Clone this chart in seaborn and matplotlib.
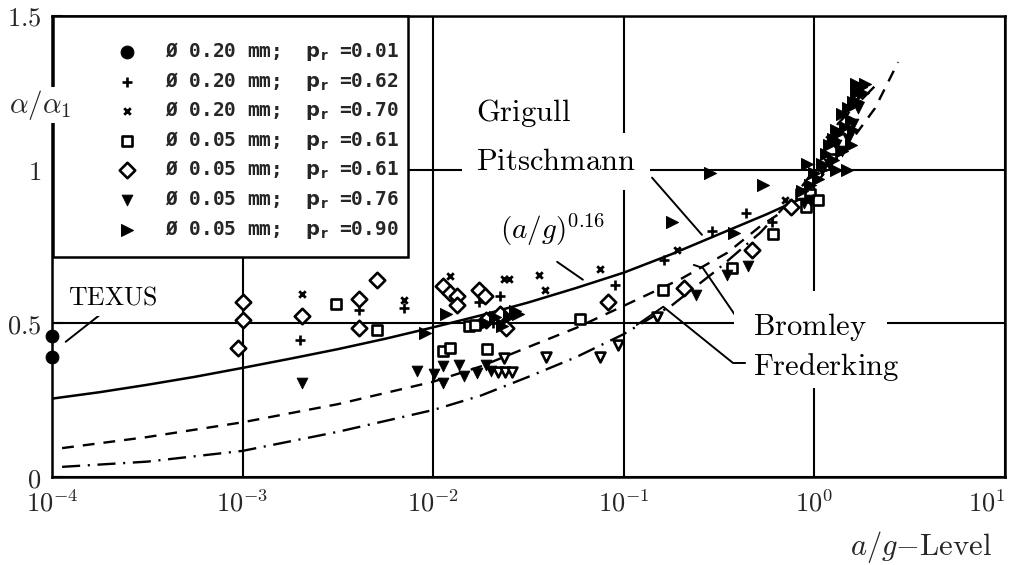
import numpy as np
import pandas as pd
import matplotlib
matplotlib.use("Agg")
import matplotlib.pyplot as plt
import seaborn as sns
from matplotlib.font_manager import FontProperties
from matplotlib.ticker import FixedLocator, NullFormatter
from matplotlib.patches import Rectangle

# ------------------------------------------------------------------ data
# correlation curves
grigull_x = [1e-4, 1.78e-4, 3.16e-4, 5.62e-4, 1e-3, 1.78e-3, 3.16e-3, 5.62e-3, 1e-2, 1.78e-2,
             3.16e-2, 5.62e-2, 1e-1, 1.78e-1, 3.16e-1, 5.62e-1, 1.0]
grigull_y = [0.255, 0.276, 0.30, 0.326, 0.355, 0.385, 0.416, 0.45, 0.487, 0.526,
             0.568, 0.615, 0.665, 0.725, 0.79, 0.855, 0.925]

bromley_x = [1.13e-4, 3.16e-4, 1e-3, 3.16e-3, 1e-2, 1.78e-2, 3.16e-2, 5.62e-2, 1e-1, 0.2, 0.35,
             0.53, 0.75, 1.0, 1.5, 2.08, 2.75]
bromley_y = [0.094, 0.13, 0.178, 0.237, 0.31, 0.36, 0.423, 0.485, 0.557, 0.645, 0.73,
             0.82, 0.88, 0.95, 1.08, 1.20, 1.35]

frederking_x = [1.13e-4, 3.16e-4, 1e-3, 3.16e-3, 1e-2, 1.78e-2, 3.16e-2, 5.62e-2, 1e-1, 0.18,
                0.31, 0.52, 0.8, 1.0, 1.33, 2.14]
frederking_y = [0.033, 0.05, 0.085, 0.147, 0.218, 0.265, 0.326, 0.39, 0.465, 0.56,
                0.675, 0.795, 0.92, 1.0, 1.15, 1.28]

# measurements
d020_pr001_x = [1e-4, 1e-4]
d020_pr001_y = [0.46, 0.39]

d020_pr062_x = [2.0e-3, 4.1e-3, 7.0e-3, 0.0174, 0.0225, 0.0205, 0.09, 0.163, 0.29, 0.44, 0.6, 1.1, 1.3]
d020_pr062_y = [0.446, 0.545, 0.55, 0.57, 0.59, 0.50, 0.625, 0.707, 0.80, 0.86, 0.83, 1.0, 1.05]

d020_pr070_x = [2.04e-3, 7.0e-3, 0.0122, 0.0234, 0.025, 0.0359, 0.0385, 0.075, 0.19, 0.7, 1.2]
d020_pr070_y = [0.596, 0.575, 0.655, 0.645, 0.645, 0.658, 0.61, 0.678, 0.74, 0.9, 1.1]

d005_pr061s_x = [3.1e-3, 5.1e-3, 0.0112, 0.0122, 0.0155, 0.0165, 0.0192, 0.059, 0.16, 0.37, 0.61,
                 0.85, 0.95, 0.9, 1.05]
d005_pr061s_y = [0.564, 0.479, 0.41, 0.42, 0.49, 0.495, 0.417, 0.515, 0.61, 0.68, 0.79,
                 0.92, 0.92, 0.88, 0.90]

d005_pr061d_x = [1e-3, 1e-3, 9.5e-4, 2.04e-3, 4.1e-3, 4.1e-3, 5.1e-3, 0.0112, 0.0122, 0.0133, 0.0133,
                 0.0174, 0.0187, 0.019, 0.0225, 0.024, 0.0824, 0.207, 0.47, 0.75]
d005_pr061d_y = [0.57, 0.51, 0.42, 0.524, 0.58, 0.485, 0.64, 0.62, 0.60, 0.59, 0.56,
                 0.61, 0.59, 0.51, 0.53, 0.485, 0.57, 0.615, 0.74, 0.88]

d005_pr076_x = [2.04e-3, 8.2e-3, 0.0101, 0.0112, 0.0112, 0.0137, 0.0145, 0.017, 0.019, 0.020,
                0.24, 0.35, 0.45, 0.88, 0.95, 1.1, 1.2, 1.3, 1.4, 1.5, 1.6, 1.7]
d005_pr076_y = [0.306, 0.345, 0.335, 0.36, 0.305, 0.365, 0.33, 0.34, 0.365, 0.345,
                0.593, 0.658, 0.685, 0.89, 0.9, 1.0, 1.02, 1.08, 1.06, 1.1, 1.15, 1.2]
d005_pr076o_x = [0.0218, 0.0238, 0.026, 0.0235, 0.0391, 0.075, 0.093, 0.15]
d005_pr076o_y = [0.342, 0.342, 0.342, 0.388, 0.39, 0.39, 0.43, 0.52]

d005_pr090_x = [0.0091, 0.0117, 0.019, 0.021, 0.023, 0.025, 0.027, 0.028, 0.18, 0.283, 0.38, 0.537,
                0.86, 0.91, 0.95, 1.0, 1.05, 1.1, 1.15, 1.2, 1.25, 1.3, 1.3, 1.35, 1.4, 1.45,
                1.48, 1.5, 1.55, 1.6, 1.6, 1.65, 1.7, 1.75, 1.8, 1.85, 1.65, 1.55, 1.4, 1.25]
d005_pr090_y = [0.47, 0.53, 0.50, 0.52, 0.49, 0.52, 0.54, 0.53, 0.83, 0.99, 0.795, 0.95,
                0.93, 1.02, 0.95, 0.99, 0.97, 1.02, 1.05, 1.08, 1.1, 1.13, 1.0, 1.12, 1.18, 1.14,
                1.0, 1.2, 1.16, 1.22, 1.13, 1.25, 1.22, 1.27, 1.25, 1.28, 1.28, 1.08, 1.06, 1.03]

legend_labels = [
    r"Ø 0.20 mm;  $\mathbf{p}_\mathbf{r}$ =0.01",
    r"Ø 0.20 mm;  $\mathbf{p}_\mathbf{r}$ =0.62",
    r"Ø 0.20 mm;  $\mathbf{p}_\mathbf{r}$ =0.70",
    r"Ø 0.05 mm;  $\mathbf{p}_\mathbf{r}$ =0.61",
    r"Ø 0.05 mm;  $\mathbf{p}_\mathbf{r}$ =0.61",
    r"Ø 0.05 mm;  $\mathbf{p}_\mathbf{r}$ =0.76",
    r"Ø 0.05 mm;  $\mathbf{p}_\mathbf{r}$ =0.90",
]
x_ticks = [1e-4, 1e-3, 1e-2, 1e-1, 1e0, 1e1]
x_ticklabels = [r"$10^{-4}$", r"$10^{-3}$", r"$10^{-2}$", r"$10^{-1}$", r"$10^{0}$", r"$10^{1}$"]
y_ticks = [0, 0.5, 1.0, 1.5]
y_ticklabels = [r"$0$", r"$0.5$", r"$1$", r"$1.5$"]

# ------------------------------------------------------------------ style
sns.set_style("white")
plt.rcParams["mathtext.fontset"] = "cm"
plt.rcParams["lines.scale_dashes"] = False
plt.rcParams["font.family"] = ["DejaVu Sans"]

fig = plt.figure(figsize=(10.19, 5.65), dpi=100)
W, H = 1019, 565
AX_L, AX_R, AX_T, AX_B = 52, 1005, 16, 477
ax = fig.add_axes([AX_L / W, (H - AX_B) / H, (AX_R - AX_L) / W, (AX_B - AX_T) / H])
ax.set_xscale("log")
ax.set_xlim(1e-4, 1e1)
ax.set_ylim(0, 1.5)

for s in ax.spines.values():
    s.set_color("black")
    s.set_linewidth(1.8)
    s.set_zorder(6)

ax.set_xticks(x_ticks)
ax.set_xticklabels(x_ticklabels, fontsize=19)
ax.xaxis.set_minor_locator(FixedLocator(
    [m * 10.0 ** e for e in range(-4, 1) for m in (2.5, 5, 7.5)]))
ax.xaxis.set_minor_formatter(NullFormatter())
ax.set_yticks(y_ticks)
ax.set_yticklabels(y_ticklabels, fontsize=19)
ax.tick_params(axis="x", which="major", direction="in", length=0, pad=10)
ax.tick_params(axis="x", which="minor", direction="in", length=5, width=1.4, color="black")
ax.tick_params(axis="y", which="major", direction="in", length=8, width=1.5, pad=8, color="black")
ax.tick_params(left=True, bottom=True)
labs = ax.get_xticklabels()
labs[-1].set_horizontalalignment("right")

ax.grid(True, which="major", color="black", linewidth=1.5)
ax.set_axisbelow(True)

# ------------------------------------------------------------------ curves
sns.lineplot(x=grigull_x, y=grigull_y, ax=ax, color="black", linewidth=1.8,
             estimator=None, sort=False, zorder=3)
sns.lineplot(x=bromley_x, y=bromley_y, ax=ax, color="black", linewidth=1.7,
             estimator=None, sort=False, zorder=3)
ax.lines[-1].set_dashes((8.5, 6.5))
sns.lineplot(x=frederking_x, y=frederking_y, ax=ax, color="black", linewidth=1.7,
             estimator=None, sort=False, zorder=3)
ax.lines[-1].set_dashes((13, 5.5, 1.5, 5.5))

# ------------------------------------------------------------------ points
ew = 1.9
h = []
h.append(sns.scatterplot(x=d020_pr001_x, y=d020_pr001_y, ax=ax, marker="o", s=85,
                         color="black", edgecolor="black", clip_on=False, zorder=7,
                         label=legend_labels[0]).collections[-1])
h.append(sns.scatterplot(x=d020_pr062_x, y=d020_pr062_y, ax=ax, marker="+", s=45,
                         color="black", linewidth=1.9, zorder=4,
                         label=legend_labels[1]).collections[-1])
h.append(sns.scatterplot(x=d020_pr070_x, y=d020_pr070_y, ax=ax, marker="x", s=22,
                         color="black", linewidth=2.0, zorder=4,
                         label=legend_labels[2]).collections[-1])
h.append(sns.scatterplot(x=d005_pr061s_x, y=d005_pr061s_y, ax=ax, marker="s", s=45,
                         facecolor="white", edgecolor="black", linewidth=ew, zorder=4,
                         label=legend_labels[3]).collections[-1])
h.append(sns.scatterplot(x=d005_pr061d_x, y=d005_pr061d_y, ax=ax, marker="D", s=62,
                         facecolor="white", edgecolor="black", linewidth=ew, zorder=4,
                         label=legend_labels[4]).collections[-1])
h.append(sns.scatterplot(x=d005_pr076_x, y=d005_pr076_y, ax=ax, marker="v", s=60,
                         color="black", edgecolor="black", zorder=4,
                         label=legend_labels[5]).collections[-1])
sns.scatterplot(x=d005_pr076o_x, y=d005_pr076o_y, ax=ax, marker="v", s=50,
                facecolor="white", edgecolor="black", linewidth=ew, zorder=4,
                label="_nolegend_")
h.append(sns.scatterplot(x=d005_pr090_x, y=d005_pr090_y, ax=ax, marker=">", s=75,
                         color="black", edgecolor="black", zorder=4,
                         label=legend_labels[6]).collections[-1])

# ------------------------------------------------------------------ legend
def ax_frac(px, py):
    return (px - AX_L) / (AX_R - AX_L), (AX_B - py) / (AX_B - AX_T)

x0, y0 = ax_frac(53, 257)
x1, y1 = ax_frac(408, 16)
ax.add_patch(Rectangle((x0, y0), x1 - x0, y1 - y0, transform=ax.transAxes,
                       facecolor="white", edgecolor="black", linewidth=1.8,
                       zorder=7, clip_on=False))
fp = FontProperties(family="DejaVu Sans Mono", weight="bold", size=14,
                    math_fontfamily="dejavusans")
anchor = ax_frac(108, 40)
leg = ax.legend(h, legend_labels, loc="upper left", bbox_to_anchor=anchor,
                borderaxespad=0, frameon=False, prop=fp, borderpad=0,
                labelspacing=0.34, handlelength=2.0, handletextpad=0.95,
                scatterpoints=1)
leg.set_zorder(8)

# ------------------------------------------------------------------ annotations
box = dict(facecolor="white", edgecolor="none", pad=4)
tkw = dict(color="black", zorder=9, va="center", ha="left")
ax.text(0.0168, 1.186, r"$\mathrm{Grigull}$", fontsize=22, bbox=box, **tkw)
ax.text(0.0168, 1.026, r"$\mathrm{Pitschmann}$", fontsize=22,
        bbox=dict(facecolor="white", edgecolor="none", pad=10), **tkw)
ax.text(0.0224, 0.805, r"$(a/g)^{\mathbf{0.16}}$", fontsize=21, bbox=box, **tkw)
ax.text(0.477, 0.489, r"$\mathrm{Bromley}$", fontsize=22,
        bbox=dict(facecolor="white", edgecolor="none", pad=14), **tkw)
ax.text(0.477, 0.358, r"$\mathrm{Frederking}$", fontsize=22, bbox=box, **tkw)
ax.text(1.21e-4, 0.583, r"$\mathrm{TEXUS}$", fontsize=18.5, bbox=box, **tkw)

lkw = dict(color="black", linewidth=1.4, zorder=5)
ax.plot([0.1406, 0.257], [0.974, 0.788], **lkw)
ax.plot([0.0447, 0.061], [0.70, 0.642], **lkw)
ax.plot([0.233, 0.26, 0.433], [0.69, 0.68, 0.479], **lkw)
ax.plot([0.117, 0.161, 0.374, 0.433], [0.495, 0.554, 0.371, 0.371], **lkw)
ax.plot([1.18e-4, 1.786e-4], [0.44, 0.528], **lkw)

fig.text(40 / W, 1 - 105 / H, r"$\alpha/\alpha_1$", fontsize=21, ha="center", va="center",
         bbox=dict(facecolor="white", edgecolor="none", pad=1), zorder=10)
fig.text(992 / W, 1 - 547 / H, r"$a/g\mathrm{-Level}$", fontsize=22, ha="right",
         va="center")

fig.savefig("out.png", dpi=100)
